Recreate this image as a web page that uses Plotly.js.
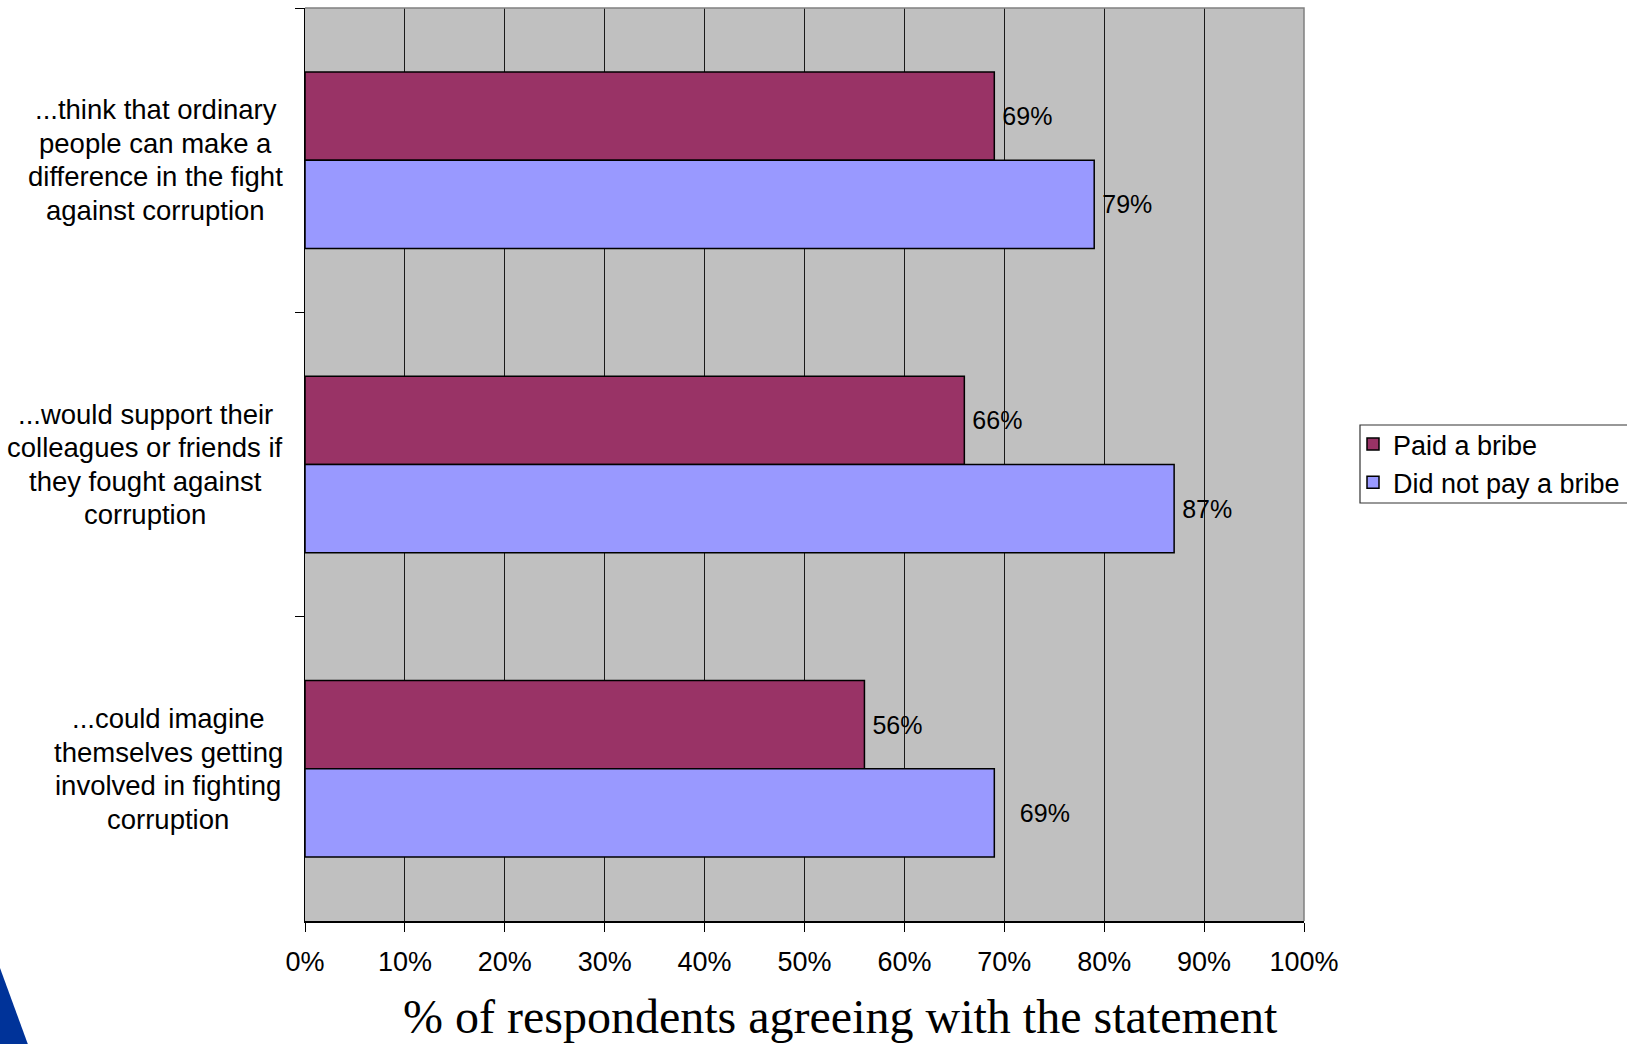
<!DOCTYPE html>
<html>
<head>
<meta charset="utf-8">
<script src="https://cdn.plot.ly/plotly-3.0.1.min.js"></script>
<style>
  html, body { margin: 0; padding: 0; background: #ffffff; }
  #chart { width: 1627px; height: 1044px; }
</style>
</head>
<body>
<div id="chart"></div>
<script>
// Statements (category axis), top to bottom
const categories = [
  "...think that ordinary<br>people can make a<br>difference in the fight<br>against corruption",
  "...would support their<br>colleagues or friends if<br>they fought against<br>corruption",
  "...could imagine<br>themselves getting<br>involved in fighting<br>corruption"
];

// Share of respondents agreeing (%)
const paidBribe = [69, 66, 56];
const didNotPayBribe = [79, 87, 69];

const seriesNames = ["Paid a bribe", "Did not pay a bribe"];
const xTickValues = [0, 10, 20, 30, 40, 50, 60, 70, 80, 90, 100];
const xTickLabels = ["0%", "10%", "20%", "30%", "40%", "50%", "60%", "70%", "80%", "90%", "100%"];
const axisTitle = "% of respondents agreeing with the statement";

const sans = "'Liberation Sans', Arial, Helvetica, sans-serif";
const serif = "'Liberation Serif', 'Times New Roman', Times, serif";

// Figure geometry
const W = 1627, H = 1044;
const M = { l: 305, r: 323, t: 8, b: 123 };
const plotW = W - M.l - M.r;
const plotH = H - M.t - M.b;
const px2x = function (px) { return (px - M.l) / plotW; };
const px2y = function (py) { return (H - M.b - py) / plotH; };

const labelTemplate = "\u2009%{x}%";
const wideLabelTemplate = "\u2002\u2009\u2009%{x}%";

function barTrace(name, values, color, template) {
  return {
    type: "bar",
    orientation: "h",
    name: name,
    y: categories,
    x: values,
    marker: { color: color, line: { color: "#000000", width: 1.5 } },
    texttemplate: template,
    textposition: "outside",
    constraintext: "none",
    cliponaxis: false,
    textfont: { family: sans, size: 25, color: "#000000" },
    hoverinfo: "skip"
  };
}

const traces = [
  barTrace(seriesNames[0], paidBribe, "#993366", labelTemplate),
  // the last value label of this series sits a little further from its bar
  barTrace(seriesNames[1], didNotPayBribe, "#9999FF",
    didNotPayBribe.map(function (v, i) { return i === didNotPayBribe.length - 1 ? wideLabelTemplate : labelTemplate; }))
];

// Statement labels: each line centred within its block, block right-aligned next to the axis
const labelFontSize = 27.5;
const labelLineStep = 33.5;
const labelGap = 22;
const measureCtx = document.createElement("canvas").getContext("2d");
measureCtx.font = labelFontSize + "px 'Liberation Sans', Arial, sans-serif";

const labelAnnotations = [];
categories.forEach(function (c) {
  const lines = c.split("<br>");
  const widest = Math.max.apply(null, lines.map(function (s) { return measureCtx.measureText(s).width; }));
  const centreX = px2x(M.l - labelGap - widest / 2);
  const mid = (lines.length - 1) / 2;
  lines.forEach(function (line, i) {
    labelAnnotations.push({
      xref: "paper", yref: "y",
      x: centreX, y: c,
      xanchor: "center", yanchor: "middle",
      yshift: (mid - i) * labelLineStep,
      text: line,
      showarrow: false,
      font: { family: sans, size: labelFontSize, color: "#000000" }
    });
  });
});

const titleAnnotation = {
  xref: "paper", yref: "paper",
  x: px2x(840), y: px2y(988),
  xanchor: "center", yanchor: "top",
  text: axisTitle,
  showarrow: false,
  font: { family: serif, size: 48, color: "#000000" }
};

const layout = {
  width: W,
  height: H,
  margin: { l: M.l, r: M.r, t: M.t, b: M.b, autoexpand: false },
  paper_bgcolor: "#ffffff",
  plot_bgcolor: "#C0C0C0",
  font: { family: sans, color: "#000000" },
  barmode: "group",
  bargap: 0.42,
  bargroupgap: 0,
  showlegend: true,
  legend: {
    x: px2x(1353), y: px2y(420),
    xanchor: "left", yanchor: "top",
    traceorder: "normal",
    bgcolor: "rgba(0,0,0,0)",
    borderwidth: 0,
    font: { family: sans, size: 27, color: "#000000" }
  },
  xaxis: {
    range: [0, 100],
    tickmode: "array",
    tickvals: xTickValues,
    ticktext: xTickLabels,
    tickfont: { family: sans, size: 27, color: "#000000" },
    ticks: "outside",
    ticklen: 9,
    tickcolor: "#000000",
    tickwidth: 1,
    ticklabelstandoff: 7,
    showgrid: true,
    gridcolor: "#1a1a1a",
    gridwidth: 1,
    zeroline: false,
    showline: true,
    linecolor: "#000000",
    linewidth: 1.5,
    fixedrange: true
  },
  yaxis: {
    type: "category",
    autorange: "reversed",
    tickson: "boundaries",
    ticks: "outside",
    ticklen: 9,
    tickcolor: "#000000",
    tickwidth: 1,
    showticklabels: false,
    showgrid: false,
    zeroline: false,
    showline: true,
    linecolor: "#000000",
    linewidth: 1.5,
    fixedrange: true
  },
  shapes: [
    // grey plot-area frame on the top and right sides
    {
      type: "path", xref: "paper", yref: "paper",
      path: "M 0,1 L 1,1 L 1,0",
      line: { color: "#808080", width: 1.5 },
      layer: "above"
    },
    // legend frame
    {
      type: "rect", xref: "paper", yref: "paper",
      x0: px2x(1360), x1: px2x(1660), y0: px2y(503), y1: px2y(425),
      fillcolor: "#ffffff",
      line: { color: "#333333", width: 1.2 },
      layer: "below"
    },
    // corner of the slide's blue emblem
    {
      type: "path", xref: "paper", yref: "paper",
      path: "M " + px2x(0) + "," + px2y(968) +
            " L " + px2x(30) + "," + px2y(1050) +
            " L " + px2x(-5) + "," + px2y(1050) +
            " L " + px2x(-5) + "," + px2y(968) + " Z",
      fillcolor: "#003399",
      line: { width: 0 },
      layer: "above"
    }
  ],
  annotations: labelAnnotations.concat([titleAnnotation])
};

Plotly.newPlot("chart", traces, layout, { staticPlot: true, displayModeBar: false });
</script>
</body>
</html>
